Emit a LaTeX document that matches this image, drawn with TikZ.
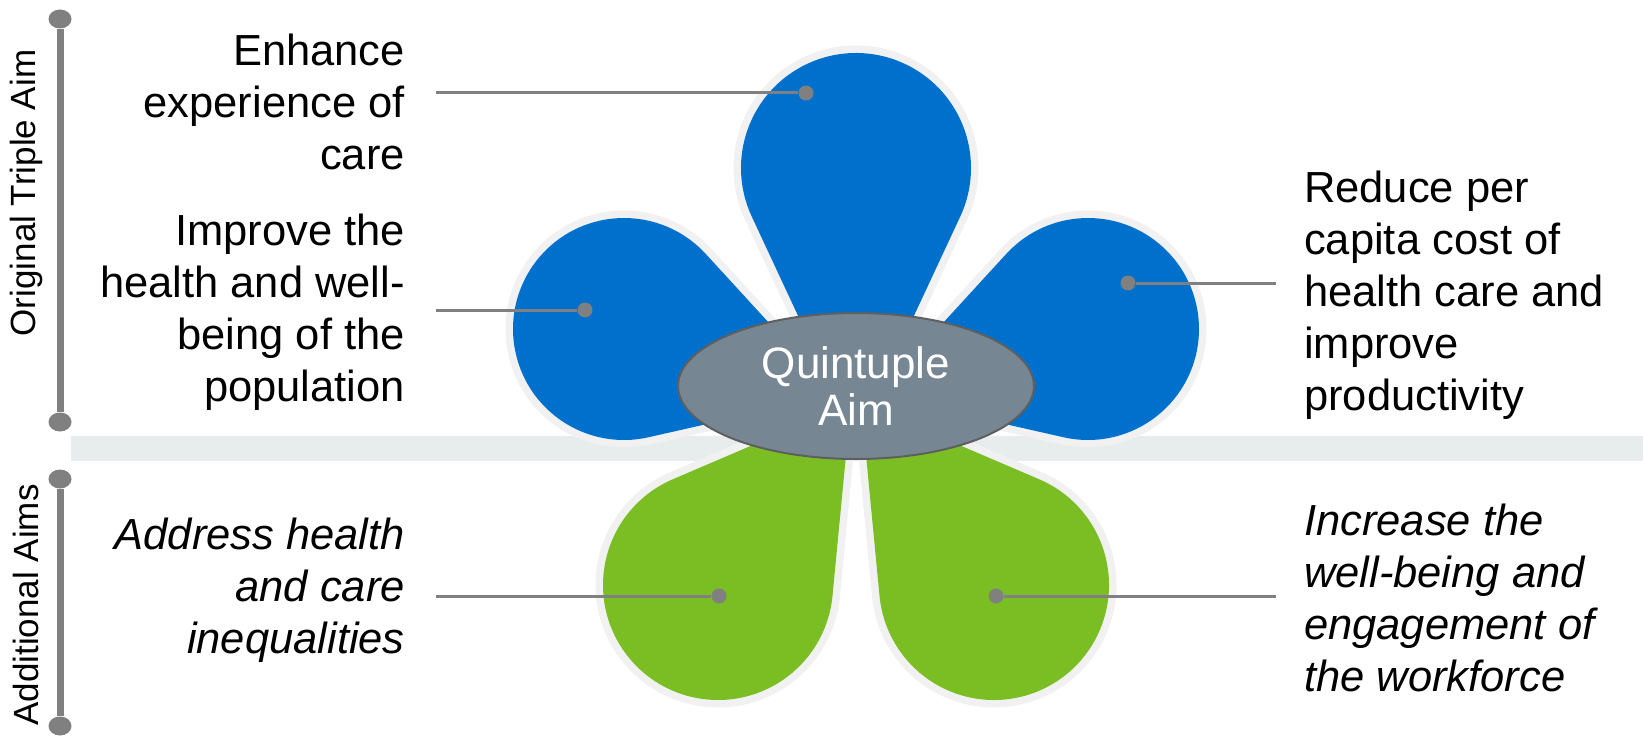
\documentclass[tikz,border=0pt]{standalone}
\usepackage{fontspec}
\setmainfont{Liberation Sans}
\usetikzlibrary{calc,shapes.geometric}

\definecolor{petalblue}{RGB}{0,112,205}
\definecolor{petalgreen}{RGB}{122,190,35}
\definecolor{ringgray}{RGB}{241,241,241}
\definecolor{hubgray}{RGB}{119,134,147}
\definecolor{hubedge}{RGB}{95,95,95}
\definecolor{leadgray}{RGB}{128,128,128}
\definecolor{bandgray}{RGB}{231,236,236}

% A petal: straight flanks from the tip, tangent to a round bulb.
% #1 path options, #2/#3 tip, #4/#5 bulb centre, #6 bulb radius
\newcommand\drawpetal[6]{%
  \pgfmathsetmacro\pdx{#4-#2}%
  \pgfmathsetmacro\pdy{#5-#3}%
  \pgfmathsetmacro\plen{veclen(\pdx,\pdy)}%
  \pgfmathsetmacro\pang{atan2(\pdy,\pdx)}%
  \pgfmathsetmacro\palpha{asin(#6/\plen)}%
  \pgfmathsetmacro\pstart{\pang-90-\palpha}%
  \pgfmathsetmacro\pend{\pang+90+\palpha}%
  \path[#1] (#2,#3) -- ($(#4,#5)+(\pstart:#6)$)
    arc[start angle=\pstart, end angle=\pend, radius=#6] -- cycle;
}

\tikzset{
  labeltext/.style={inner sep=0pt, font=\fontsize{43.5}{52}\selectfont},
  sidetext/.style={inner sep=0pt, font=\fontsize{35}{40}\selectfont, rotate=90},
  lead/.style={draw=leadgray, line width=3pt},
  leaddot/.style={circle, fill=leadgray, inner sep=0pt, minimum size=15pt},
  bar/.style={draw=leadgray, line width=7pt},
  bardot/.style={ellipse, fill=leadgray, inner sep=0pt, minimum width=23pt, minimum height=19pt},
  ring/.style={draw=ringgray, line width=15pt, line join=round},
  hub/.style={ellipse, fill=hubgray, draw=hubedge, line width=2pt, inner sep=0pt,
    minimum width=356pt, minimum height=146pt, text=white, align=center,
    font=\fontsize{44}{47}\selectfont},
}

\begin{document}
\begin{tikzpicture}[x=1pt, y=-1pt]
\useasboundingbox (0,0) rectangle (1643,738);
\fill[white] (0,0) rectangle (1643,738);

% separator band between the two groups of aims
\fill[bandgray] (71,436) rectangle (1643,461);

% left-hand brackets
\node[bardot] (b1) at (60,19) {};
\node[bardot] (b2) at (60,422) {};
\node[bardot] (b3) at (60,479) {};
\node[bardot] (b4) at (60,726) {};
\draw[bar] (b1) -- (b2);
\draw[bar] (b3) -- (b4);
\node[sidetext] (orig) at (26,193) {Original Triple Aim};
\node[sidetext] (addl) at (26,605) {Additional Aims};

% petal outlines first, then the fills on top
\drawpetal{ring}{856}{440}{856}{168}{115}
\drawpetal{ring}{835}{395}{624}{329}{111}
\drawpetal{ring}{877}{395}{1088}{329}{111}
\drawpetal{ring}{851}{403}{718}{585}{115}
\drawpetal{ring}{861}{403}{994}{585}{115}

\drawpetal{fill=petalblue}{856}{440}{856}{168}{115}
\drawpetal{fill=petalblue}{835}{395}{624}{329}{111}
\drawpetal{fill=petalblue}{877}{395}{1088}{329}{111}
\drawpetal{fill=petalgreen}{851}{403}{718}{585}{115}
\drawpetal{fill=petalgreen}{861}{403}{994}{585}{115}

% centre
\node[hub] (hub) at (856,386) {Quintuple\\Aim};

% leader lines
\coordinate (l1) at (436,93);
\coordinate (l2) at (436,310);
\coordinate (l3) at (1276,283);
\coordinate (l4) at (436,596);
\coordinate (l5) at (1276,596);
\node[leaddot] (d1) at (806,93) {};
\node[leaddot] (d2) at (585,310) {};
\node[leaddot] (d3) at (1128,283) {};
\node[leaddot] (d4) at (719,596) {};
\node[leaddot] (d5) at (996,596) {};
\draw[lead] (l1) -- (d1);
\draw[lead] (l2) -- (d2);
\draw[lead] (l3) -- (d3);
\draw[lead] (l4) -- (d4);
\draw[lead] (l5) -- (d5);

% labels
\node[labeltext, align=right, anchor=east] (t1) at (405,102)
  {Enhance\\experience of\\care};
\node[labeltext, align=right, anchor=east] (t2) at (405,312)
  {Improve the\\health and well-\\being of the\\population};
\node[labeltext, align=left, anchor=west] (t3) at (1304,295)
  {Reduce per\\capita cost of\\health care and\\improve\\productivity};
\node[labeltext, align=right, anchor=east, font=\fontsize{43.5}{52}\selectfont\itshape] (t4) at (405,590)
  {Address health\\and care\\inequalities};
\node[labeltext, align=left, anchor=west, font=\fontsize{43.5}{52}\selectfont\itshape] (t5) at (1304,598)
  {Increase the\\well-being and\\engagement of\\the workforce};
\end{tikzpicture}
\end{document}
